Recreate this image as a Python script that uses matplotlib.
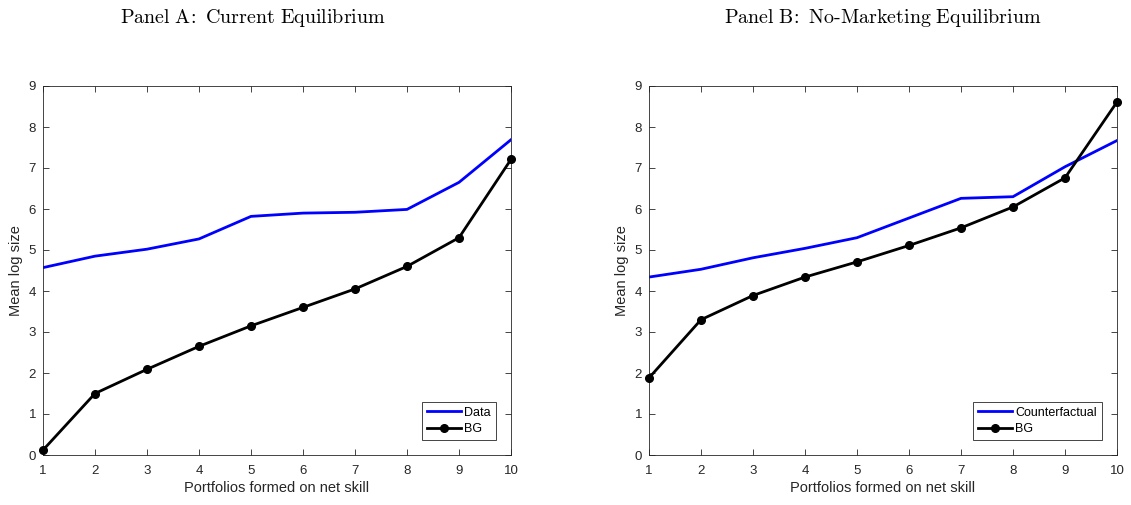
import matplotlib
matplotlib.use("Agg")
import matplotlib.pyplot as plt

# ---- data ----
portfolios = [1, 2, 3, 4, 5, 6, 7, 8, 9, 10]
data_a = [4.57, 4.85, 5.02, 5.27, 5.82, 5.90, 5.92, 5.99, 6.65, 7.69]
bg_a = [0.12, 1.50, 2.09, 2.65, 3.15, 3.60, 4.05, 4.60, 5.30, 7.21]
counterfactual_b = [4.34, 4.53, 4.81, 5.04, 5.30, 5.78, 6.26, 6.30, 7.03, 7.67]
bg_b = [1.88, 3.30, 3.89, 4.34, 4.71, 5.11, 5.54, 6.05, 6.76, 8.61]

titles = [r"$\mathrm{Panel\ A\!:\ Current\ Equilibrium}$",
          r"$\mathrm{Panel\ B\!:\ No\text{-}Marketing\ Equilibrium}$"]

plt.rcParams["font.family"] = ["Liberation Sans", "DejaVu Sans"]
plt.rcParams["mathtext.fontset"] = "cm"

fig = plt.figure(figsize=(11.31, 5.05), dpi=100)
W, H = 1131, 505
axes_px = [(43, 86, 511, 455), (649, 86, 1117, 455)]
series = [(data_a, "Data", bg_a), (counterfactual_b, "Counterfactual", bg_b)]
title_x = [253, 883]

grey = "#262626"
for (l, t, r, b), (blue, lab, bg), ttl, tx in zip(axes_px, series, titles, title_x):
    ax = fig.add_axes([l / W, 1 - b / H, (r - l) / W, (b - t) / H])
    ax.plot(portfolios, blue, color="#0000ff", lw=2.0, label=lab)
    ax.plot(portfolios, bg, color="black", lw=2.0, marker="o", ms=5.5, label="BG",
            clip_on=False, zorder=3)
    ax.set_xlim(1, 10)
    ax.set_ylim(0, 9)
    ax.set_xticks(portfolios)
    ax.set_yticks(range(0, 10))
    ax.tick_params(direction="in", top=True, right=True, labelsize=9.5,
                   colors=grey, length=4, width=0.6)
    ax.tick_params(axis="x", pad=7)
    ax.tick_params(axis="y", pad=5)
    for s in ax.spines.values():
        s.set_color(grey)
        s.set_linewidth(0.6)
    ax.set_xlabel("Portfolios formed on net skill", fontsize=10.5, color=grey, labelpad=3)
    ax.set_ylabel("Mean log size", fontsize=10.5, color=grey, labelpad=4)
    leg = ax.legend(loc="lower right", fontsize=9, fancybox=False, framealpha=1,
                    edgecolor=grey, handlelength=2.7, borderpad=0.4,
                    labelspacing=0.35, handletextpad=0.3, borderaxespad=1.2)
    leg.get_frame().set_linewidth(0.6)
    fig.text(tx / W, 1 - 18 / H, ttl, ha="center", va="center", fontsize=14.4)

fig.savefig("out.png", dpi=100)
